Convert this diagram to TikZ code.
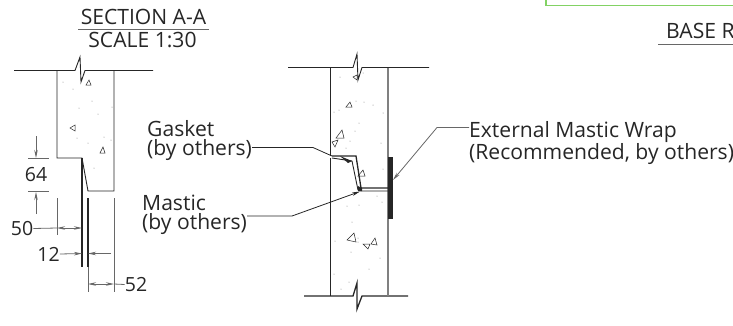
\documentclass[tikz,border=0pt]{standalone}
\usepackage{fontspec}
\setmainfont{Open Sans}
\usetikzlibrary{arrows.meta,positioning}
\definecolor{inkdark}{gray}{0.15}
\definecolor{boxgreen}{RGB}{130,210,100}
\tikzset{>={Stealth[length=8pt,width=3.5pt]}, % long narrow dimension arrows
label/.style={font=\fontsize{21.1}{19}\selectfont, text=inkdark, inner sep=0pt, align=left}, % all texts of the drawing
dimlabel/.style={label, font=\fontsize{19.5}{19}\selectfont}, % dimension figures
wall/.style={line width=0.9pt, draw=inkdark}, % concrete outlines
ext/.style={line width=0.8pt, draw=inkdark!70}, % extension and leader lines
grit/.style={line width=0.5pt, draw=inkdark}, % aggregate triangles
}

\begin{document}
\begin{tikzpicture}[x=1pt,y=-1pt]
\useasboundingbox (0,0) rectangle (733,325);
\begin{scope}
\clip (0,0) rectangle (733,325);
% titles
\node[label] (title) at (143.5,17) {SECTION A-A};
\node[label] (scale) at (142.5,40) {SCALE 1:30};
\draw[ext] (78,29.5) coordinate (t1) -- (209,29.5) coordinate (t2);
\node[label, anchor=west] (base) at (666,31) {BASE R};
\draw[ext] (658,44) coordinate (b1) -- (733,44) coordinate (b2);
\draw[line width=1.2pt, draw=boxgreen] (546,0) -- (546,5.5) -- (733,5.5);

% left section
\draw[wall] (14,70.5) -- (75,70.5) -- (80,57) -- (81,82) -- (85,70.5) -- (153,70.5);
\draw[wall] (57,70.5) -- (57,158) -- (82,158) -- (88,191) -- (114,191) -- (114,70.5);
\foreach \x/\y in {63/82,73/89,92/101,79/108,112/107,98/114,77/138,88/143,104/137,111/140,94/168}
  \fill[gray] (\x,\y) circle (0.5);
\foreach \a/\b/\c/\d/\e/\f in {86/85/91/85/89/80, 75/125/75/131/70/128, 100/153/105/153/103/147}
  \draw[grit] (\a,\b) -- (\c,\d) -- (\e,\f) -- cycle;

% dimension 64
\coordinate (h1) at (28,158.5); \coordinate (h2) at (49,158.5);
\coordinate (h3) at (28,191); \coordinate (h4) at (49,191);
\draw[ext] (h1) -- (h2) (h3) -- (h4);
\coordinate (h5) at (36,136); \coordinate (h6) at (36,158);
\coordinate (h7) at (36,214); \coordinate (h8) at (36,192);
\draw[ext,->] (h5) -- (h6);
\draw[ext,->] (h7) -- (h8);
\node[dimlabel] (d64) at (36,175) {64};

% extension lines
\draw[ext] (57,198) -- (57,235);
\draw[wall, line width=1.1pt] (82,158) -- (82,267);
\draw[wall, line width=1.1pt] (88,198) -- (88,267);
\draw[ext] (88,267) -- (88,292);
\draw[ext] (114,198) -- (114,292);

% dimension 50
\node[dimlabel] (d50) at (22,228.5) {50};
\coordinate (e1) at (57,228); \coordinate (e2) at (82,228); \coordinate (e3) at (69.5,228);
\draw[ext] (d50.east) -- (e1);
\draw[ext,->] (e3) -- (e1);
\draw[ext,->] (e3) -- (e2);

% dimension 12
\node[dimlabel] (d12) at (48.5,254) {12};
\coordinate (f1) at (82,253.5); \coordinate (f2) at (88,253.5); \coordinate (f3) at (111,253.5);
\draw[ext,->] (d12.east) -- (f1);
\draw[ext,->] (f3) -- (f2);

% dimension 52
\node[dimlabel] (d52) at (136,284.5) {52};
\coordinate (g1) at (88,284); \coordinate (g2) at (114,284); \coordinate (g3) at (101,284);
\draw[ext,->] (g3) -- (g1);
\draw[ext,->] (g3) -- (g2);
\draw[ext] (g2) -- (d52.west);

% middle section
\draw[wall] (288,67.5) -- (353,67.5) -- (357,54) -- (358,80) -- (362,67.5) -- (429,67.5);
\draw[wall, line width=1.3pt] (304,296) -- (353,296) -- (357,283) -- (357,309) -- (362,296) -- (408,296);
\draw[wall] (330,67.5) -- (330,156) (330,158) -- (330,296);
\draw[line width=1.1pt, draw=gray] (388,67.5) -- (388,296);
\foreach \x/\y in {340/77,363/73,356/101,364/102,373/105,339/110,334/112,383/113,359/123,355/131,350/141,381/143,346/148,383/169,377/196,382/202,347/206,359/205,352/222,358/238,358/242,335/241,351/252,380/258,369/269,334/274,349/282,341/289}
  \fill[gray] (\x,\y) circle (0.5);
\foreach \a/\b/\c/\d/\e/\f in {353/77/357/75/357/80, 346/107/352/107/350/102, 336/138/344/138/342/130, 332/142/338/140/335/147, 358/176/365/176/363/170, 347/240/356/242/354/233, 363/244/370/244/368/249, 371/244/377/245/375/238}
  \draw[grit] (\a,\b) -- (\c,\d) -- (\e,\f) -- cycle;

% joint with gasket and mastic
\draw[wall, line width=1.3pt] (332,156) -- (356,156) -- (361,188) -- (388,188);
\draw[wall] (332,158) -- (352,161) -- (358,190) -- (361,191) -- (388,191);
\fill[inkdark] (340,156) -- (352,161) -- (348,163) -- cycle;
\fill[inkdark] (358,186) -- (362,188) -- (362,191) -- (358,191) -- cycle;
\fill[black!85] (388,157) rectangle (393,219);

% leaders
\node[label, anchor=west] (gasket) at (147,141) {Gasket\\(by others)};
\node[label, anchor=west] (mastic) at (142,215) {Mastic\\(by others)};
\node[label, anchor=west] (wrap) at (469,143) {External Mastic Wrap\\(Recommended, by others)};
\coordinate (g4) at (gasket.east|-0,147.5); \coordinate (g5) at (313,147.5); \coordinate (g6) at (332,156);
\draw[ext, draw=inkdark] (g4) -- (g5) -- (g6);
\coordinate (m4) at (mastic.east|-0,216); \coordinate (m5) at (292,216); \coordinate (m6) at (360,191.5);
\draw[ext, draw=inkdark, ->] (m4) -- (m5) -- (m6);
\coordinate (w4) at (469,127.5); \coordinate (w5) at (437,127.5); \coordinate (w6) at (393,180);
\draw[ext, ->] (w4) -- (w5) -- (w6);
\end{scope}
\end{tikzpicture}
\end{document}
